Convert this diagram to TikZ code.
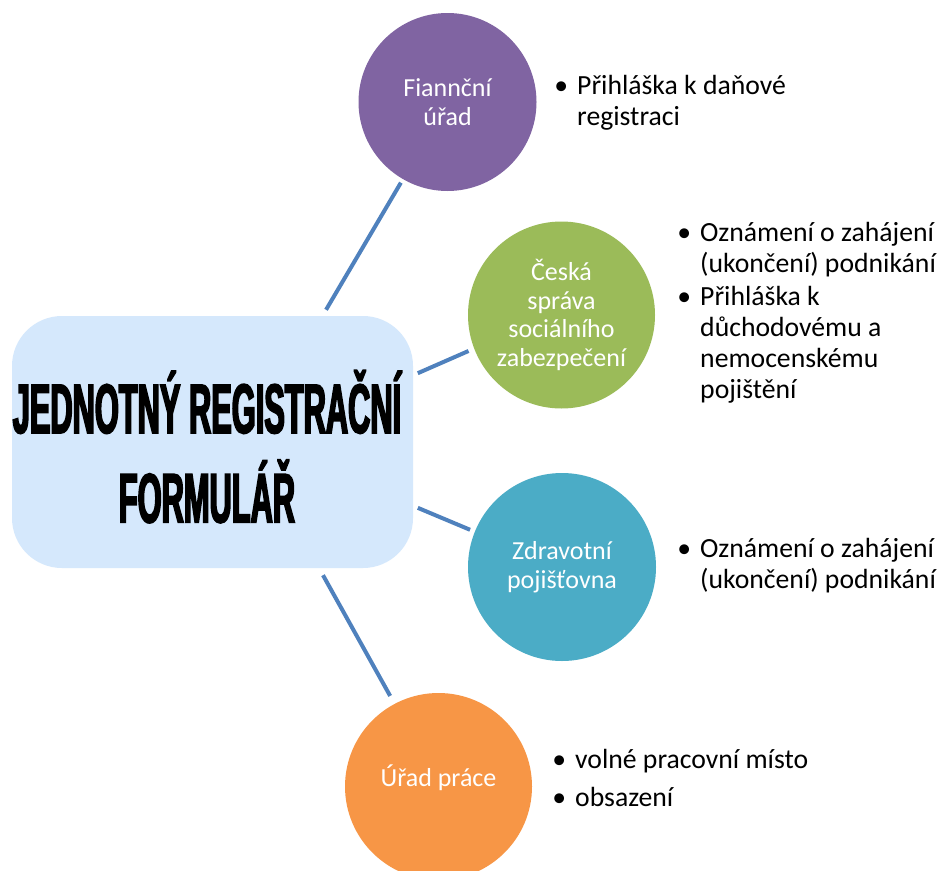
\documentclass[tikz,border=0pt]{standalone}
\usepackage{fontspec}
\setmainfont{Carlito}
\newfontface\titlefont[FakeStretch=0.44,FakeBold=2.3]{Liberation Sans Bold}
\setlength{\parindent}{0pt}
\definecolor{cpurple}{HTML}{8064A2}
\definecolor{cgreen}{HTML}{9BBB59}
\definecolor{cteal}{HTML}{4BACC6}
\definecolor{corange}{HTML}{F79646}
\definecolor{cbox}{RGB}{213,232,252}
\definecolor{cline}{HTML}{4F81BD}
\newcommand{\bul}{\makebox[0pt][r]{\textbullet\hspace{9pt}}}
\begin{document}
\begin{tikzpicture}[x=1pt,y=-1pt,
  conn/.style={draw=cline, line width=4pt},
  bubble/.style={circle, inner sep=0pt, text=white, align=center, font=\fontsize{26}{28.6}\selectfont},
  listtext/.style={anchor=base west, inner sep=0pt, font=\fontsize{27.7}{31}\selectfont},
  ]
\useasboundingbox (0,0) rectangle (939,870);
\fill[white] (0,0) rectangle (939,870);
\node[fill=cbox, rounded corners=50pt, minimum width=401pt, minimum height=252pt, inner sep=0pt] (jrf) at (212.5,442) {};
\node[anchor=base, inner sep=0pt, font=\titlefont\fontsize{70}{89}\selectfont] (title) at (207,433)
  {\begin{tabular}[t]{@{}c@{}}JEDNOTNÝ REGISTRAČNÍ\\FORMULÁŘ\end{tabular}};
\node[bubble, fill=cpurple, minimum size=178pt] (fin) at (447.5,102) {Fiannční\\úřad};
\node[bubble, fill=cgreen, minimum size=187pt] (cssz) at (561.5,315) {Česká\\správa\\sociálního\\zabezpečení};
\node[bubble, fill=cteal, minimum size=188pt] (zp) at (562,567) {Zdravotní\\pojišťovna};
\node[bubble, fill=corange, minimum size=187pt, text height=10pt, text depth=10pt] (up) at (438.5,786.5) {Úřad práce};
\draw[conn, shorten <=7pt, shorten >=4pt] ([xshift=110pt]jrf.north) -- (fin.240);
\draw[conn, shorten <=5pt, shorten >=6pt] ([yshift=66.8pt]jrf.east) -- (cssz.201);
\draw[conn, shorten <=5pt, shorten >=5pt] ([yshift=-63.9pt]jrf.east) -- (zp.158);
\draw[conn, shorten <=8pt, shorten >=9pt] ([xshift=106.6pt]jrf.south) -- (up.118);
\node[listtext] (l1) at (577,94) {\begin{tabular}[t]{@{}l@{}}\bul Přihláška k daňové\\registraci\end{tabular}};
\node[listtext] (l2) at (700,241) {\begin{tabular}[t]{@{}l@{}}\bul Oznámení o zahájení\\(ukončení) podnikání\\[2pt]\bul Přihláška k\\důchodovému a\\nemocenskému\\pojištění\end{tabular}};
\node[listtext] (l3) at (700,557.5) {\begin{tabular}[t]{@{}l@{}}\bul Oznámení o zahájení\\(ukončení) podnikání\end{tabular}};
\node[listtext] (l4) at (575,768.5) {\begin{tabular}[t]{@{}l@{}}\bul volné pracovní místo\\[7pt]\bul obsazení\end{tabular}};
\end{tikzpicture}
\end{document}
